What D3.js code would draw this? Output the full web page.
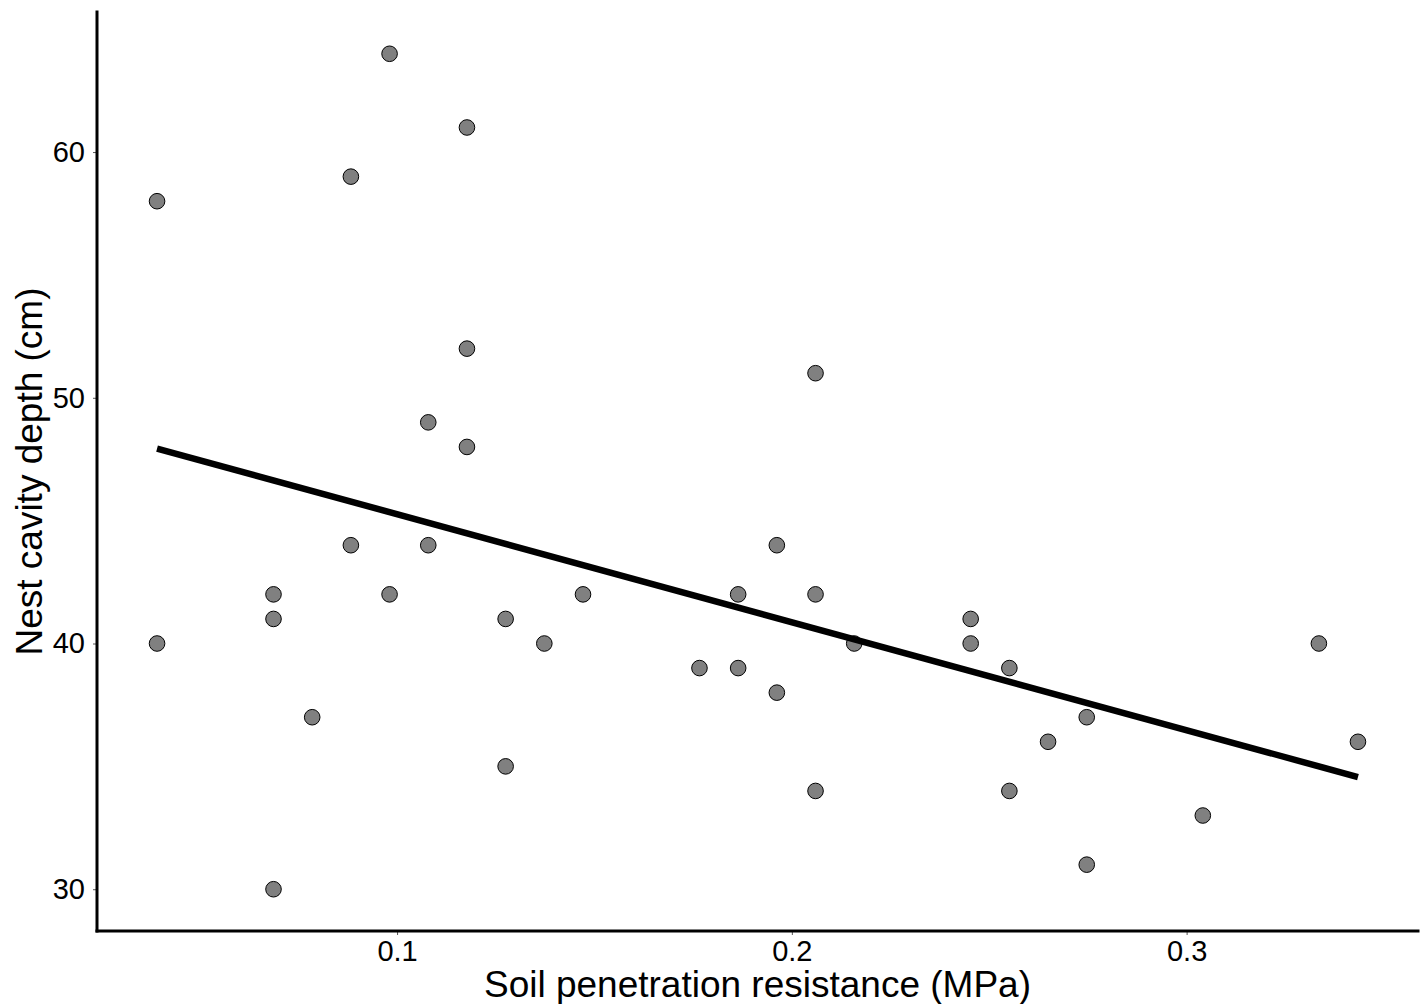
<!DOCTYPE html>
<html>
<head>
<meta charset="utf-8">
<script src="https://cdn.jsdelivr.net/npm/d3@7"></script>
<style>
  body { margin: 0; background: #fff; }
  text { font-family: "Liberation Sans", Arial, Helvetica, sans-serif; fill: #000; }
</style>
</head>
<body>
<svg id="chart"></svg>
<script>
// soil penetration resistance (MPa) for each nest
const resistance = [
    0.0392, 0.0392,
    0.0687, 0.0687, 0.0687,
    0.0785,
    0.0883, 0.0883,
    0.0981, 0.0981,
    0.1079, 0.1079,
    0.1177, 0.1177, 0.1177,
    0.1275, 0.1275,
    0.1373,
    0.1471,
    0.1766,
    0.1864, 0.1864,
    0.1962, 0.1962,
    0.2060, 0.2060, 0.2060,
    0.2158,
    0.2453, 0.2453,
    0.2551, 0.2551,
    0.2649,
    0.2747, 0.2747,
    0.3041,
    0.3335,
    0.3434
];

// nest cavity depth (cm), same order
const depth = [
    58, 40,
    42, 41, 30,
    37,
    59, 44,
    64, 42,
    49, 44,
    61, 52, 48,
    41, 35,
    40,
    42,
    39,
    42, 39,
    44, 38,
    51, 42, 34,
    40,
    41, 40,
    39, 34,
    36,
    37, 31,
    33,
    40,
    36
];

const xTicks = [0.1, 0.2, 0.3];
const yTicks = [30, 40, 50, 60];
const xTitle = "Soil penetration resistance (MPa)";
const yTitle = "Nest cavity depth (cm)";

const width = 1421, height = 1004;
const margin = {top: 12, right: 3, bottom: 73, left: 97};

const svg = d3.select("#chart")
    .attr("width", width)
    .attr("height", height);

const points = resistance.map((x, i) => ({x: x, y: depth[i]}));

// ggplot-like 5% padding on both scales
function padded(ext) {
    const pad = (ext[1] - ext[0]) * 0.05;
    return [ext[0] - pad, ext[1] + pad];
}

const x = d3.scaleLinear()
    .domain(padded(d3.extent(resistance)))
    .range([margin.left, width - margin.right]);

const y = d3.scaleLinear()
    .domain(padded(d3.extent(depth)))
    .range([height - margin.bottom, margin.top]);

// least squares fit
const mx = d3.mean(resistance), my = d3.mean(depth);
const sxy = d3.sum(points, d => (d.x - mx) * (d.y - my));
const sxx = d3.sum(points, d => (d.x - mx) * (d.x - mx));
const slope = sxy / sxx;
const intercept = my - slope * mx;
const fit = d3.extent(resistance).map(v => ({x: v, y: intercept + slope * v}));

// axes
const xAxis = svg.append("g")
    .attr("transform", `translate(0,${height - margin.bottom})`)
    .call(d3.axisBottom(x).tickValues(xTicks).tickFormat(d3.format(".1f")).tickSize(4).tickPadding(5));

const yAxis = svg.append("g")
    .attr("transform", `translate(${margin.left},0)`)
    .call(d3.axisLeft(y).tickValues(yTicks).tickFormat(d3.format("d")).tickSize(4).tickPadding(8));

[xAxis, yAxis].forEach(g => {
    g.select(".domain").remove();
    g.selectAll(".tick line").attr("stroke", "#555").attr("stroke-width", 1);
    g.selectAll(".tick text").attr("font-size", 29).attr("fill", "#000");
});

// axis lines like theme_classic
svg.append("line")
    .attr("x1", margin.left).attr("x2", width - margin.right)
    .attr("y1", height - margin.bottom).attr("y2", height - margin.bottom)
    .attr("stroke", "#000").attr("stroke-width", 3)
    .attr("stroke-linecap", "square");

svg.append("line")
    .attr("x1", margin.left).attr("x2", margin.left)
    .attr("y1", margin.top).attr("y2", height - margin.bottom)
    .attr("stroke", "#000").attr("stroke-width", 3)
    .attr("stroke-linecap", "square");

// points
svg.append("g")
    .selectAll("circle")
    .data(points)
    .enter()
    .append("circle")
    .attr("cx", d => x(d.x))
    .attr("cy", d => y(d.y))
    .attr("r", 7.8)
    .attr("fill", "#808080")
    .attr("stroke", "#000")
    .attr("stroke-width", 1);

// regression line
svg.append("path")
    .datum(fit)
    .attr("d", d3.line().x(d => x(d.x)).y(d => y(d.y)))
    .attr("fill", "none")
    .attr("stroke", "#000")
    .attr("stroke-width", 6.5);

// titles
svg.append("text")
    .attr("x", (margin.left + width - margin.right) / 2)
    .attr("y", 997)
    .attr("text-anchor", "middle")
    .attr("font-size", 37)
    .text(xTitle);

svg.append("text")
    .attr("transform", `translate(42,${(margin.top + height - margin.bottom) / 2}) rotate(-90)`)
    .attr("text-anchor", "middle")
    .attr("font-size", 37)
    .text(yTitle);
</script>
</body>
</html>
